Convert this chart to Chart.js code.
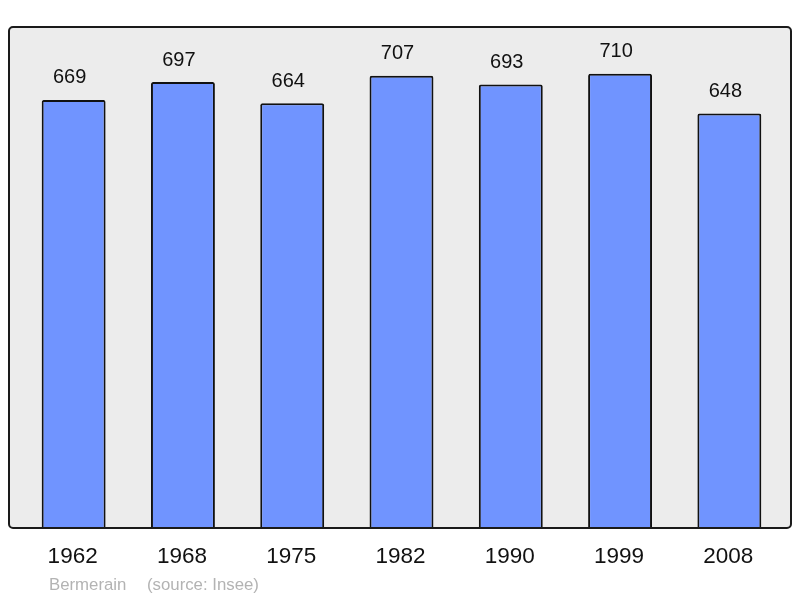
<!DOCTYPE html>
<html>
<head>
<meta charset="utf-8">
<script src="https://cdn.jsdelivr.net/npm/chart.js@4/dist/chart.umd.min.js"></script>
<style>
  html, body { margin: 0; padding: 0; background: #fff; }
  canvas { display: block; }
</style>
</head>
<body>
<canvas id="pop" width="800" height="598"></canvas>
<script>
const years = ['1962', '1968', '1975', '1982', '1990', '1999', '2008'];
const population = [669, 697, 664, 707, 693, 710, 648];
const yMax = 783;
const townName = 'Bermerain';
const sourceText = '(source: Insee)';

const FONT = '"Liberation Sans", Arial, sans-serif';

// gray panel with a dark rounded frame behind the bars
const framePlugin = {
  id: 'frame',
  beforeDatasetsDraw(chart) {
    const { ctx, chartArea } = chart;
    const x = chartArea.left - 10, y = chartArea.top;
    const w = chartArea.right + 7 - x, h = chartArea.bottom - y;
    ctx.save();
    ctx.beginPath();
    ctx.roundRect(x, y, w, h, 4);
    ctx.fillStyle = '#ececec';
    ctx.fill();
    ctx.restore();
  },
  afterDatasetsDraw(chart) {
    const { ctx, chartArea } = chart;
    const x = chartArea.left - 10, y = chartArea.top;
    const w = chartArea.right + 7 - x, h = chartArea.bottom - y;
    ctx.save();
    ctx.beginPath();
    ctx.roundRect(x, y, w, h, 4);
    ctx.lineWidth = 2;
    ctx.strokeStyle = '#1a1a1a';
    ctx.stroke();
    ctx.restore();
  }
};

// value labels above bars, years under the axis, source line
const labelsPlugin = {
  id: 'labels',
  afterDraw(chart) {
    const { ctx, chartArea } = chart;
    const xs = chart.scales.x, ys = chart.scales.y;
    ctx.save();
    ctx.textAlign = 'center';
    ctx.textBaseline = 'middle';
    ctx.fillStyle = '#111';
    ctx.font = '20px ' + FONT;
    population.forEach((v, i) => {
      ctx.fillText(String(v), xs.getPixelForValue(i) - 4, ys.getPixelForValue(v) - 22);
    });
    ctx.font = '22.5px ' + FONT;
    years.forEach((yr, i) => {
      ctx.fillText(yr, xs.getPixelForValue(i) - 1, chartArea.bottom + 29);
    });
    ctx.textAlign = 'left';
    ctx.fillStyle = '#b3b3b3';
    ctx.font = '16.8px ' + FONT;
    ctx.fillText(townName, 49, chartArea.bottom + 57);
    ctx.fillText(sourceText, 147, chartArea.bottom + 57);
    ctx.restore();
  }
};

new Chart(document.getElementById('pop'), {
  type: 'bar',
  data: {
    labels: years,
    datasets: [{
      data: population,
      backgroundColor: '#7094ff',
      borderColor: '#111',
      borderWidth: 2,
      borderRadius: 2,
      borderSkipped: 'bottom',
      barPercentage: 0.585,
      categoryPercentage: 1
    }]
  },
  options: {
    responsive: false,
    animation: false,
    layout: { padding: { left: 19, right: 16, top: 27, bottom: 70 } },
    plugins: { legend: { display: false }, tooltip: { enabled: false } },
    scales: {
      x: { display: false },
      y: { display: false, min: 0, max: yMax }
    }
  },
  plugins: [framePlugin, labelsPlugin]
});
</script>
</body>
</html>
